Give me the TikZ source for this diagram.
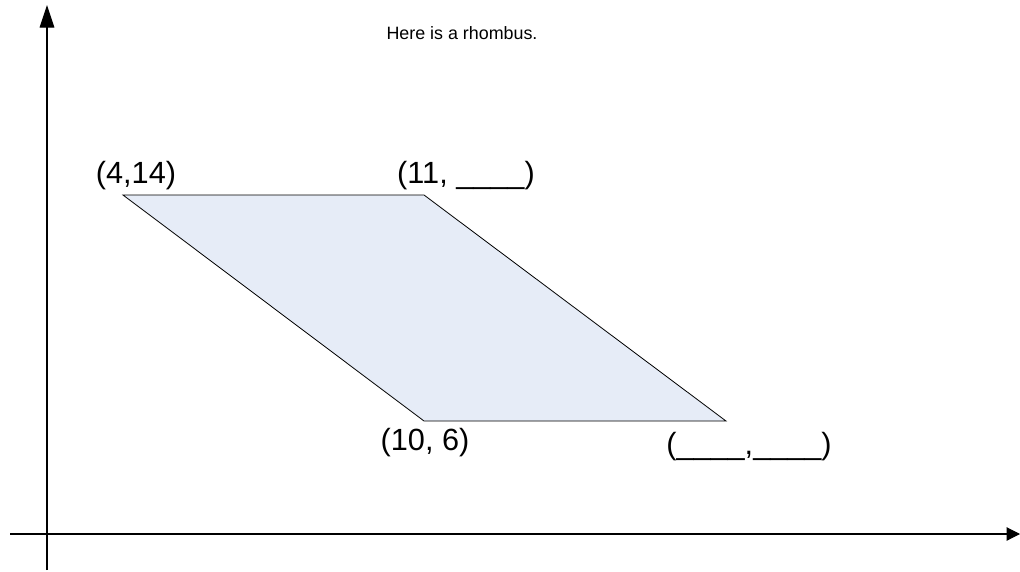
\documentclass[tikz,border=0pt]{standalone}
\usepackage{fontspec}
\setmainfont{Liberation Sans}
\usetikzlibrary{arrows.meta}
\definecolor{rhombfill}{HTML}{E6ECF7}

\begin{document}
\begin{tikzpicture}[x=0.75pt, y=-0.75pt, every node/.style={inner sep=0pt, font=\fontsize{23}{26}\selectfont}]
    \useasboundingbox (0,0) rectangle (1020,571);
    % axes
    \coordinate (ybot) at (47,570);
    \coordinate (ytop) at (47,5);
    \coordinate (xleft) at (10,534);
    \coordinate (xright) at (1020,534);
    \draw[-{Triangle[length=17pt, width=11pt]}, line width=0.8pt] (ybot) -- (ytop);
    \draw[-{Triangle[length=10pt, width=10pt]}, line width=0.8pt] (xleft) -- (xright);
    % rhombus
    \coordinate (tl) at (123,195);
    \coordinate (tr) at (424,195);
    \coordinate (br) at (726,421);
    \coordinate (bl) at (424,421);
    \draw[fill=rhombfill, line width=0.6pt] (tl) -- (tr) -- (br) -- (bl) -- cycle;
    % labels
    \node (title) at (462,33) [font=\fontsize{13.4}{15}\selectfont] {Here is a rhombus.};
    \node (ltl) at (136,176) {(4,14)};
    \node (ltr) at (466,176) {(11, \_\_\_\_)};
    \node (lbl) at (425,443) {(10, 6)};
    \node (lbr) at (749,447) {(\_\_\_\_,\_\_\_\_)};
\end{tikzpicture}
\end{document}
